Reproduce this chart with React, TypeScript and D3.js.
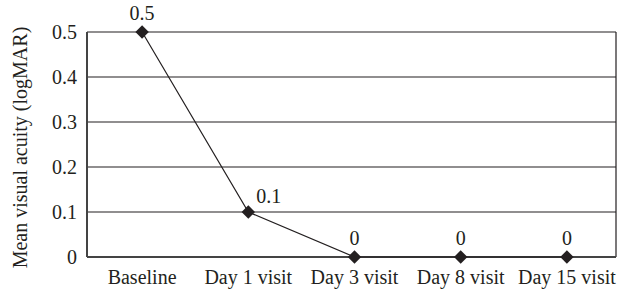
import React from "react";
import * as d3 from "d3";

const categories = ["Baseline", "Day 1 visit", "Day 3 visit", "Day 8 visit", "Day 15 visit"];
const values = [0.5, 0.1, 0, 0, 0];
const valueLabels = ["0.5", "0.1", "0", "0", "0"];
const yTicks = [0, 0.1, 0.2, 0.3, 0.4, 0.5];
const yTitle = "Mean visual acuity (logMAR)";

const W = 617;
const H = 291;
const left = 87;
const right = 616;
const top = 32;
const bottom = 257;
const FONT = "'Liberation Serif', 'Times New Roman', serif";
const FS = 20;
const INK = "#231f20";

export default function App() {
  const x = d3.scaleBand<string>().domain(categories).range([89, 620]);
  const y = d3.scaleLinear().domain([0, 0.5]).range([bottom, top]);
  const cx = (c: string) => (x(c) as number) + x.bandwidth() / 2;
  const line = d3
    .line<number>()
    .x((_, i) => cx(categories[i]))
    .y((v) => y(v));
  const diamond = d3.symbol().type(d3.symbolDiamond2).size(115)();

  return (
    <svg width={W} height={H} style={{ position: "absolute", left: 0, top: 0, background: "#fff" }}>
      <rect x={0} y={0} width={W} height={H} fill="#fff" />
      {yTicks.map((t) => (
        <g key={t}>
          <line x1={left} x2={right} y1={y(t)} y2={y(t)} stroke={INK} strokeWidth={1.2} />
          <text
            x={77}
            y={y(t)}
            dy="0.35em"
            textAnchor="end"
            fontFamily={FONT}
            fontSize={FS}
            fill={INK}
          >
            {t === 0 ? "0" : d3.format(".1f")(t)}
          </text>
        </g>
      ))}
      <line x1={right} x2={right} y1={top} y2={bottom} stroke={INK} strokeWidth={1.2} />
      <line x1={left} x2={left} y1={top} y2={bottom} stroke="#444" strokeWidth={2} />
      <line x1={left} x2={right} y1={bottom} y2={bottom} stroke="#444" strokeWidth={2} />
      {categories.map((c) => (
        <text
          key={c}
          x={cx(c)}
          y={284}
          textAnchor="middle"
          fontFamily={FONT}
          fontSize={FS}
          fill={INK}
        >
          {c}
        </text>
      ))}
      <path d={line(values) || ""} fill="none" stroke={INK} strokeWidth={1.2} />
      {values.map((v, i) => (
        <path
          key={i}
          d={diamond || ""}
          transform={`translate(${cx(categories[i])},${y(v)})`}
          fill={INK}
        />
      ))}
      {values.map((v, i) => {
        const px = cx(categories[i]);
        const py = y(v);
        const side = i === 1;
        return (
          <text
            key={"l" + i}
            x={side ? px + 8 : px}
            y={side ? py - 9 : py - 12}
            textAnchor={side ? "start" : "middle"}
            fontFamily={FONT}
            fontSize={FS}
            fill={INK}
          >
            {valueLabels[i]}
          </text>
        );
      })}
      <text
        transform={`translate(27,${(top + bottom) / 2 + 3}) rotate(-90)`}
        textAnchor="middle"
        fontFamily={FONT}
        fontSize={FS}
        fill={INK}
      >
        {yTitle}
      </text>
    </svg>
  );
}
